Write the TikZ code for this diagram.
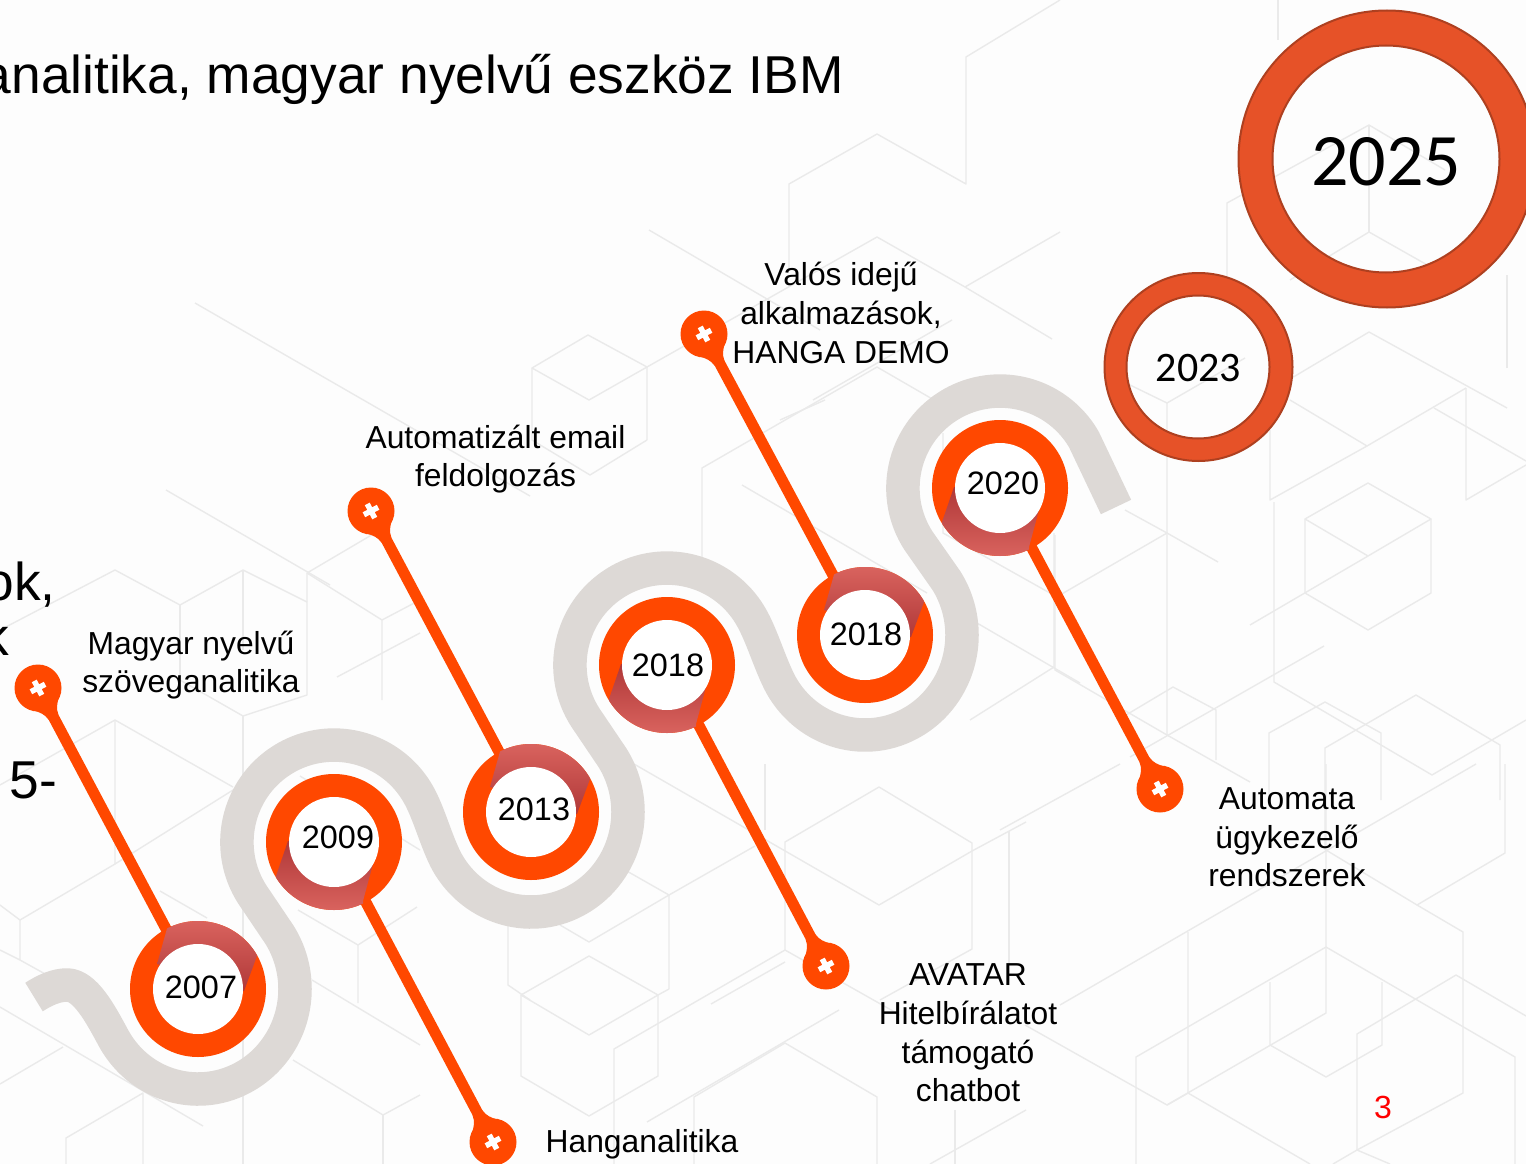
\documentclass[tikz,border=0pt]{standalone}
\usepackage{fontspec}
\setmainfont{Liberation Sans}
\newfontfamily\calib{Carlito}
\definecolor{pinorange}{HTML}{FF4800}
\definecolor{snakegrey}{HTML}{DDD9D6}
\definecolor{hexline}{HTML}{EAEAEA}
\definecolor{pagebg}{HTML}{FDFDFD}
\definecolor{shadelight}{HTML}{DA645F}
\definecolor{shademid}{HTML}{D05A56}
\definecolor{shadedark}{HTML}{B03838}
\definecolor{bigfill}{HTML}{E65228}
\definecolor{bigedge}{HTML}{AE4020}
\tikzset{
  hexstroke/.style={draw=hexline,line width=1.4pt,line join=round},
  snakeband/.style={draw=snakegrey,line width=33.5pt,line join=round},
  ringdisk/.style={circle,fill=pinorange,minimum size=136pt,inner sep=0pt,outer sep=0pt},
  ringhole/.style={circle,fill=white,minimum size=90pt,inner sep=0pt,outer sep=0pt},
  pinhead/.style={circle,fill=pinorange,minimum size=47pt,inner sep=0pt,outer sep=0pt},
  pinline/.style={draw=pinorange,line width=11pt,shorten <=-2pt,shorten >=-3pt},
  crossmark/.style={draw=white,line width=5.5pt},
  label/.style={align=center,inner sep=0pt,font=\fontsize{31.8}{38.6}\selectfont},
  yeartext/.style={inner sep=0pt,font=\fontsize{32.4}{38}\selectfont},
  bigtext/.style={inner sep=0pt,anchor=base east,font=\fontsize{53.3}{60}\selectfont},
  bigedgering/.style={circle,draw=bigedge,line width=2pt,inner sep=0pt,outer sep=0pt}
}
% #1 id, #2 x, #3 y, #4 year, #5 dx, #6 dy, #7 top/bot shading, #8 pin x, #9 pin y
\newcommand{\yearring}[9]{%
  \node[ringdisk] (ring#1) at (#2,#3) {};
  \node[pinhead] (pin#1) at (#8,#9) {};
  \draw[pinline] (pin#1) -- (ring#1);
  \begin{scope}[shift={(#8,#9)},rotate=\pinrot]
    \fill[pinorange] (18,14) .. controls (23,9.5) and (26,6.5) .. (33,5.5) -- (33,-5.5) .. controls (26,-6.5) and (23,-9.5) .. (18,-14) -- cycle;
  \end{scope}
  \begin{scope}[shift={(#8,#9)},rotate=28]
    \draw[crossmark] (-8,0) -- (8,0);
    \draw[crossmark] (0,-8) -- (0,8);
  \end{scope}
  \begin{scope}[shift={(#2,#3)}]
    \clip (0,0) circle[radius=68];
    \ifx#7t
      \path[top color=shadelight,middle color=shademid,bottom color=shadedark]
        (-30,-70) -- (59,-70) -- (59,-33) -- (46,2) -- (-41,-25) -- (-30,-64) -- cycle;
    \else
      \path[bottom color=shadelight,middle color=shademid,top color=shadedark]
        (-46,-1) -- (39,22) -- (29,59) -- (29,70) -- (-58,70) -- (-58,34) -- cycle;
    \fi
  \end{scope}
  \node[ringhole] at (#2,#3) {};
  \node[yeartext] at ({#2+#5},{#3+#6}) {#4};
}
\begin{document}
\begin{tikzpicture}[x=1pt,y=-1pt]
\useasboundingbox (0,0) rectangle (1526,1164);
\clip (0,0) rectangle (1526,1164);
\fill[pagebg] (0,0) rectangle (1526,1164);
% ---------- background hexagon lines ----------
\begin{scope}[hexstroke]
\draw (195,303) -- (530,496);
\draw (166,490) -- (330,585);
% upper middle
\draw (1060,0) -- (966,57) -- (966,184) -- (877,134) -- (789,184) -- (789,270);
\draw (649,230) -- (820,330);
\draw (965,287) -- (877,237) -- (647,367) -- (647,440);
\draw (965,287) -- (1052,339);
\draw (965,287) -- (1060,232);
\draw (952,320) -- (813,400);
\draw (702,590) -- (702,468) -- (877,367) -- (960,415);
\draw (647,367) -- (588,335) -- (532,368) -- (532,440) -- (590,475) -- (647,440);
\draw (532,368) -- (589,400) -- (647,367);
% right of centre
\draw (1245,358) -- (1167,403) -- (1167,735) -- (1250,782);
\draw (1130,385) -- (1167,403);
\draw (1060,595) -- (1167,533) -- (1218,562);
\draw (1125,510) -- (1167,533);
\draw (1167,735) -- (1055,670) -- (1055,535);
\draw (1270,430) -- (1270,500) -- (1367,446) -- (1466,388);
\draw (1290,400) -- (1367,446);
\draw (1434,408) -- (1526,461);
\draw (1466,388) -- (1466,500) -- (1526,465);
\draw (1368,483) -- (1305,519) -- (1305,593) -- (1368,630) -- (1431,593) -- (1431,519) -- cycle;
\draw (1305,519) -- (1368,556) -- (1431,519);
\draw (1368,556) -- (1250,625);
\draw (1274,502) -- (1274,682) -- (1432,775) -- (1526,720);
\draw (1324,646) -- (1130,757);
\draw (1126,715) -- (1173,687) -- (1216,710) -- (1216,760);
\draw (1325,850) -- (1325,748) -- (1416,695) -- (1500,745) -- (1500,800);
\draw (1269,800) -- (1269,733) -- (1325,702) -- (1381,733) -- (1381,800);
\draw (1227,280) -- (1227,203) -- (1369,125) -- (1445,170);
\draw (1369,125) -- (1369,232);
\draw (1278,0) -- (1278,40);
\draw (1369,232) -- (1290,280);
\draw (1369,232) -- (1445,275);
\draw (1369,332) -- (1507,408);
\draw (1369,332) -- (1280,385);
\draw (1507,368) -- (1507,275);
% lower right
\draw (1000,830) -- (1120,764);
\draw (1009,831) -- (1009,965);
\draw (1060,1005) -- (1476,764);
\draw (1188,932) -- (1188,1093) -- (1167,1105) -- (1025,1025);
\draw (1188,1093) -- (1310,1164);
\draw (1167,1105) -- (1326,1013) -- (1326,764);
\draw (1136,1164) -- (1136,1057) -- (1326,947) -- (1515,1057) -- (1515,1164);
\draw (1270,982) -- (1270,1045) -- (1326,1077) -- (1382,1045) -- (1382,982);
\draw (1333,1164) -- (1357,1150) -- (1357,1034) -- (1456,975) -- (1526,1016);
\draw (1357,1150) -- (1463,1093) -- (1463,932) -- (1417,905) -- (1505,853) -- (1505,764);
\draw (1417,905) -- (1326,850);
\draw (1357,1150) -- (1390,1164);
% lower centre
\draw (634,764) -- (879,905) -- (972,851) -- (1026,822);
\draw (879,787) -- (785,842) -- (785,950) -- (614,1049) -- (614,1164);
\draw (879,787) -- (972,843) -- (972,949) -- (880,1000);
\draw (765,764) -- (765,830);
\draw (755,846) -- (669,895) -- (669,989);
\draw (625,870) -- (669,895);
\draw (589,956) -- (521,995) -- (521,1076) -- (589,1116) -- (658,1076) -- (658,995) -- cycle;
\draw (521,995) -- (589,1035) -- (658,995);
\draw (508,920) -- (508,985) -- (530,1000);
\draw (560,925) -- (589,942) -- (669,895);
\draw (669,989) -- (658,995);
\draw (711,1004) -- (785,962);
\draw (647,1122) -- (839,1010);
\draw (785,950) -- (900,1015);
\draw (694,1164) -- (694,1097) -- (785,1043) -- (877,1097) -- (877,1164);
\draw (955,1110) -- (955,1164);
\draw (1026,1110) -- (930,1164);
\draw (780,420) -- (825,400);
\draw (742,485) -- (927,593);
\draw (977,623) -- (1080,683);
\draw (1054,533) -- (1054,667) -- (970,720);
\draw (943,433) -- (943,533) -- (1057,597);
% left side
\draw (0,630) -- (115,570) -- (180,605) -- (243,570) -- (307,602);
\draw (180,605) -- (180,680);
\draw (243,570) -- (243,650);
\draw (380,530) -- (307,573) -- (307,695) -- (243,716);
\draw (307,573) -- (382,620) -- (382,700);
\draw (382,620) -- (420,600);
\draw (243,716) -- (243,1164);
\draw (180,680) -- (243,716);
\draw (337,677) -- (420,633);
\draw (0,785) -- (115,720) -- (233,787);
\draw (115,720) -- (115,864) -- (20,920) -- (20,960) -- (0,950);
\draw (115,864) -- (233,790);
\draw (0,905) -- (20,920);
\draw (160,891) -- (207,918);
\draw (20,960) -- (110,1010);
\draw (0,1007) -- (203,1126);
\draw (0,1084) -- (63,1047);
\draw (66,1164) -- (66,1138) -- (143,1093) -- (143,1164);
\draw (293,1060) -- (383,1115) -- (420,1095);
\draw (383,1115) -- (383,1164);
\draw (300,776) -- (420,850);
\draw (298,910) -- (358,945) -- (358,1003);
\draw (358,945) -- (417,907);
\draw (312,980) -- (420,1045);
\end{scope}
% ---------- grey road ----------
\draw[snakeband]
  (34,997) .. controls (45,990) and (56,985) .. (67,985)
  .. controls (85,985) and (100,1013) .. (114,1039)
  arc[start angle=150,end angle=-33,x radius=97,y radius=100]
  -- (252.4,894.6)
  arc[start angle=147.2,end angle=330,radius=97]
  .. controls (429,812.5) and (436,841.5) .. (447,862)
  arc[start angle=150,end angle=-33,x radius=97,y radius=100]
  -- (585.4,717.6)
  arc[start angle=147.2,end angle=330,radius=97]
  .. controls (762,635.5) and (770,664.5) .. (781,685)
  arc[start angle=150,end angle=-33,x radius=97,y radius=100]
  -- (918.4,540.6)
  arc[start angle=147.2,end angle=330,radius=97]
  -- (1116,507);
% ---------- year rings with pins ----------
\def\pinrot{-62}
\yearring{a}{198}{989}{2007}{3}{-1.5}{t}{38}{688}
\yearring{c}{531}{812}{2013}{3}{-2.5}{t}{371}{511}
\yearring{e}{865}{635}{2018}{1}{-0.5}{t}{704}{334}
\def\pinrot{118}
\yearring{b}{334}{842}{2009}{4}{-4.5}{b}{493}{1142}
\yearring{d}{667}{665}{2018}{1}{0.5}{b}{826}{966}
\yearring{f}{1000}{488}{2020}{3}{-4.5}{b}{1160}{789}
% ---------- large rings ----------
\fill[bigfill,even odd rule] (1387,159) circle[radius=148.5] (1386,159) circle[radius=113.5];
\fill[bigfill,even odd rule] (1198.5,367) circle[radius=94] (1198,367) circle[radius=71.5];
\node[bigedgering,minimum size=297pt] (big25) at (1387,159) {};
\node[bigedgering,minimum size=227pt] (hole25) at (1386,159) {};
\node[bigedgering,minimum size=188pt] (big23) at (1198.5,367) {};
\node[bigedgering,minimum size=143pt] (hole23) at (1198,367) {};
\node[inner sep=0pt,font=\calib\fontsize{74}{80}\selectfont] (y25) at (1386,161.5) {2025};
\node[inner sep=0pt,font=\calib\fontsize{42}{48}\selectfont] (y23) at (1198.5,368.5) {2023};
% ---------- texts ----------
\node[bigtext] (title) at (844,93) {analitika, magyar nyelvű eszköz IBM};
\node[bigtext] (cuta) at (56,600) {ok,};
\node[bigtext] (cutb) at (9,655) {k};
\node[bigtext] (cutc) at (57,798) {5-};
\node[label] (t1) at (191,665) {Magyar nyelvű\\szöveganalitika};
\node[label] (t2) at (495.5,459) {Automatizált email\\feldolgozás};
\node[label] (t3) at (841,313) {Valós idejű\\alkalmazások,\\HANGA DEMO};
\node[label] (t4) at (1287,837.5) {Automata\\ügykezelő\\rendszerek};
\node[label] (t5) at (968,1033) {AVATAR\\Hitelbírálatot\\támogató\\chatbot};
\node[label] (t6) at (642,1144) {Hanganalitika};
\node[inner sep=0pt,text=red,font=\fontsize{32}{38}\selectfont] (pg) at (1383,1107) {3};
\end{tikzpicture}
\end{document}
